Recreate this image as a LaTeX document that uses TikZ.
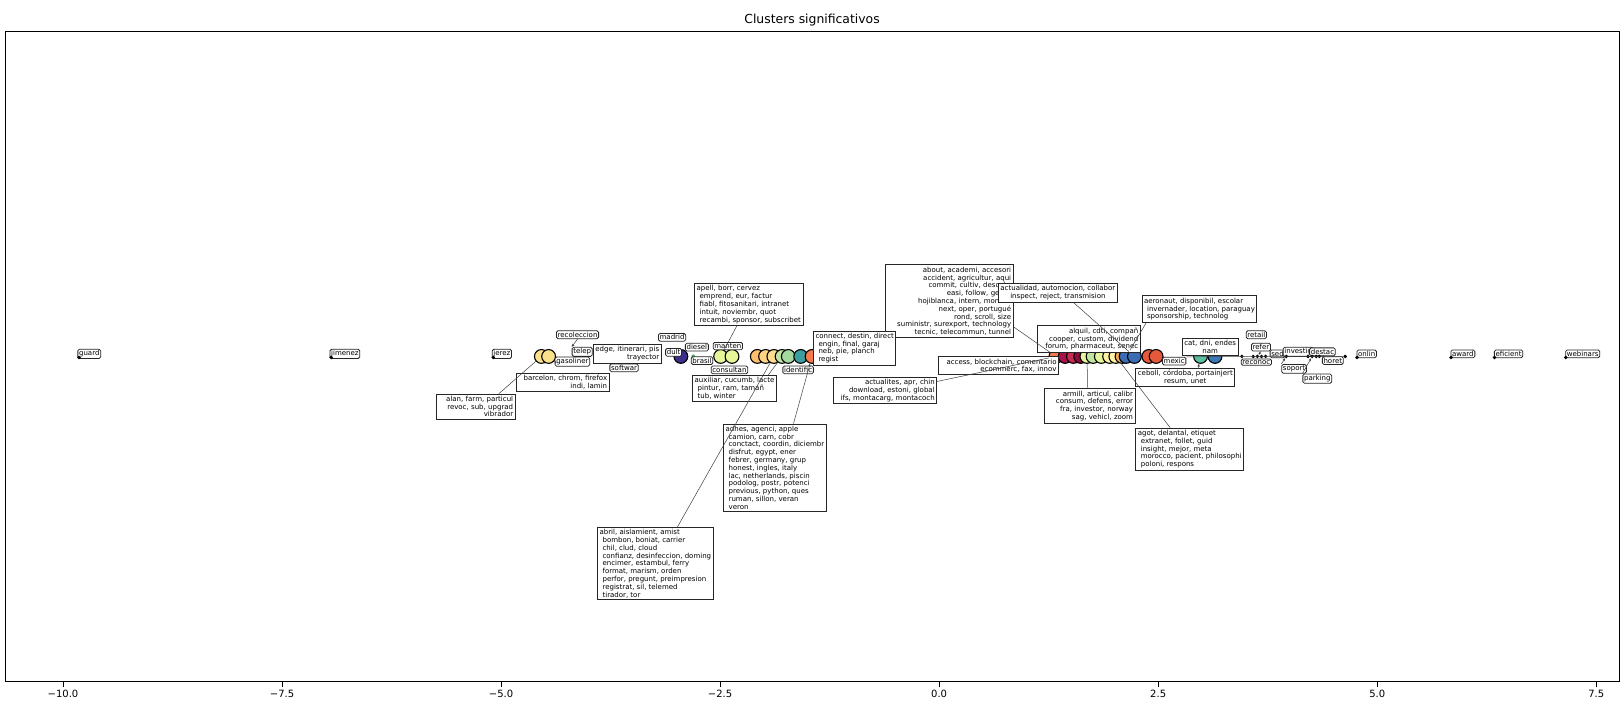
\documentclass[tikz,border=0pt]{standalone}
\usepackage{fontspec}
\setmainfont{DejaVu Sans}
\usetikzlibrary{calc,arrows.meta}
\definecolor{cYel}{HTML}{F9E08B}
\definecolor{cPur}{HTML}{3E2E8C}
\definecolor{cGrn}{HTML}{5AAE61}
\definecolor{cYG}{HTML}{E6F59A}
\definecolor{cOr1}{HTML}{FDBE6E}
\definecolor{cOr2}{HTML}{FED385}
\definecolor{cOr3}{HTML}{FDDC90}
\definecolor{cLG1}{HTML}{BFE5A0}
\definecolor{cLG2}{HTML}{A6D99E}
\definecolor{cTeal}{HTML}{3D9EA0}
\definecolor{cOrg}{HTML}{F57B4A}
\definecolor{cCrim}{HTML}{A8104A}
\definecolor{cCrim2}{HTML}{C72A52}
\definecolor{cDRed}{HTML}{8E0B3E}
\definecolor{cPY}{HTML}{FFF3A6}
\definecolor{cOrM}{HTML}{F9A65A}
\definecolor{cBlue}{HTML}{3B6DB4}
\definecolor{cRO}{HTML}{E4583C}
\definecolor{cTeal2}{HTML}{5CBFA4}
\definecolor{cBlue2}{HTML}{3A78B8}
\begin{document}
\begin{tikzpicture}[x=1.0332pt,y=-1.0332pt,
  ann/.style={draw=black!85, line width=0.8pt, fill=white, inner sep=2pt, font=\fontsize{7}{7.8}\selectfont},
  annL/.style={ann, align=left},
  annR/.style={ann, align=right},
  annC/.style={ann, align=center},
  tag/.style={draw=black!85, line width=0.8pt, rounded corners=1.5pt, fill=white, inner sep=1.2pt, font=\fontsize{7}{7.8}\selectfont},
  dot/.style={circle, fill=black, inner sep=0pt, minimum size=3.8pt},
  blob/.style={circle, draw=black, line width=1.1pt, inner sep=0pt, minimum size=13.8pt},
  conn/.style={line width=0.5pt, draw=black!75},
  arr/.style={conn, -{Stealth[length=3pt,width=2.5pt]}},
  tick/.style={font=\fontsize{10}{12}\selectfont, anchor=north}]
\useasboundingbox[fill=white] (0,0) rectangle (1568,681.4);

% title, frame, ticks
\node[font=\fontsize{12.4}{14}\selectfont] (title) at (786,19) {Clusters significativos};
\draw[line width=0.9pt] (5,30) rectangle (1567,660);
\foreach \lab [count=\i from 0] in {−10.0,−7.5,−5.0,−2.5,0.0,2.5,5.0,7.5}{
  \draw[line width=0.8pt] (61+212*\i,660) -- ++(0,4.5);
  \node[tick] (t\i) at (61+212*\i,664.5) {\lab};
}

% ---------- circles (left) ----------
\node[blob, fill=cYel] (yl1) at (524,345) {};
\node[blob, fill=cYel] (yl2) at (531,345) {};
\node[blob, fill=cPur] (pu1) at (659,345) {};
\node[circle, fill=cGrn, inner sep=0pt, minimum size=4pt] (gr1) at (671,345) {};
\node[blob, fill=cYG] (yg1) at (697.5,345) {};
\node[blob, fill=cYG] (yg2) at (708.5,345) {};
\node[blob, fill=cOr1] (o1) at (733,345) {};
\node[blob, fill=cOr2] (o2) at (741,345) {};
\node[blob, fill=cOr3] (o3) at (749,345) {};
\node[blob, fill=cLG1] (o4) at (757,345) {};
\node[blob, fill=cLG2] (o5) at (763,345) {};
\node[blob, fill=cTeal] (o6) at (775,345) {};
\node[blob, fill=cOrg] (o7) at (786,345) {};

% ---------- circles (right) ----------
\node[blob, fill=cOrg] (r1) at (1022,345) {};
\node[blob, fill=cCrim] (r2) at (1031,345) {};
\node[blob, fill=cCrim2] (r3) at (1039,345) {};
\node[blob, fill=cDRed] (r4) at (1046,345) {};
\node[blob, fill=cYG] (r5) at (1052,345) {};
\node[blob, fill=cLG1] (r6) at (1058,345) {};
\node[blob, fill=cYG] (r7) at (1066,345) {};
\node[blob, fill=cPY] (r8) at (1074,345) {};
\node[blob, fill=cPY] (r9) at (1080,345) {};
\node[blob, fill=cOrM] (r10) at (1086,345) {};
\node[blob, fill=cBlue] (r11) at (1090,345) {};
\node[blob, fill=cBlue] (r12) at (1098,345) {};
\node[blob, fill=cRO] (r13) at (1112,345) {};
\node[blob, fill=cRO] (r14) at (1119,345) {};
\node[blob, fill=cTeal2] (r15) at (1162,345) {};
\node[blob, fill=cBlue2] (r16) at (1176,345) {};

% ---------- isolated points ----------
\node[tag, anchor=west] (guard) at (75,342.5) {guard};
\node[tag, anchor=west] (jimenez) at (319,342.5) {jimenez};
\node[tag, anchor=west] (jerez) at (476,342.5) {jerez};
\node[tag, anchor=west] (onlin) at (1313,342.5) {onlin};
\node[tag, anchor=west] (award) at (1404,342.5) {award};
\node[tag, anchor=west] (eficient) at (1446,342.5) {eficient};
\node[tag, anchor=west] (webinars) at (1515,342.5) {webinars};

% ---------- small tags ----------
\node[tag] (recoleccion) at (559,324) {recoleccion};
\node[tag] (telep) at (563.5,340.5) {telep};
\node[tag] (gasoliner) at (554,350) {gasoliner};
\node[tag] (softwar) at (604,356) {softwar};
\node[tag] (madrid) at (650.5,326.5) {madrid};
\node[tag] (dult) at (652,341) {dult};
\node[tag] (diesel) at (674.5,336) {diesel};
\node[tag] (brasil) at (679.5,349) {brasil};
\node[tag] (manten) at (704.5,335) {manten};
\node[tag] (consultan) at (706,358) {consultan};
\node[tag] (identific) at (772.5,358) {identific};
\node[tag] (mexic) at (1136.5,349.5) {mexic};
\node[tag] (retail) at (1216,324) {retail};
\node[tag] (refer) at (1220.5,336) {refer};
\node[tag] (reconoc) at (1216,350.5) {reconoc};
\node[tag] (sed) at (1236.5,342.5) {sed};
\node[tag] (investig) at (1256.5,340.5) {investig};
\node[tag] (destac) at (1280,340.5) {destac};
\node[tag] (soport) at (1252.5,357) {soport};
\node[tag] (parking) at (1275,366.5) {parking};
\node[tag] (horet) at (1290,349) {horet};

% ---------- annotation boxes (left) ----------
\node[annR, text width=89pt, anchor=north east] (barcelon) at (590,361) {barcelon, chrom, firefox\\indi, lamin};
\node[annR, text width=74.5pt, anchor=north east] (alan) at (499,381) {alan, farm, particul\\revoc, sub, upgrad\\vibrador};
\node[annR, anchor=north west] (edge) at (574,333) {edge, itinerari, pis\\trayector};
\node[annL, anchor=north west] (apell) at (672,274) {apell, borr, cervez\\\hspace*{3pt}emprend, eur, factur\\\hspace*{3pt}fiabl, fitosanitari, intranet\\\hspace*{3pt}intuit, noviembr, quot\\\hspace*{3pt}recambi, sponsor, subscribet};
\node[annL, anchor=north west] (auxiliar) at (670,363) {auxiliar, cucumb, lacte\\\hspace*{3pt}pintur, ram, tamañ\\\hspace*{3pt}tub, winter};
\node[annL, anchor=north west] (adhes) at (700,410) {adhes, agenci, apple\\\hspace*{3pt}camion, carn, cobr\\\hspace*{3pt}conctact, coordin, diciembr\\\hspace*{3pt}disfrut, egypt, ener\\\hspace*{3pt}febrer, germany, grup\\\hspace*{3pt}honest, ingles, italy\\\hspace*{3pt}lac, netherlands, piscin\\\hspace*{3pt}podolog, postr, potenci\\\hspace*{3pt}previous, python, ques\\\hspace*{3pt}ruman, sillon, veran\\\hspace*{3pt}veron};
\node[annL, anchor=north west] (abril) at (578,510) {abril, aislamient, amist\\\hspace*{3pt}bombon, boniat, carrier\\\hspace*{3pt}chil, clud, cloud\\\hspace*{3pt}confianz, desinfeccion, doming\\\hspace*{3pt}encimer, estambul, ferry\\\hspace*{3pt}format, marism, orden\\\hspace*{3pt}perfor, pregunt, preimpresion\\\hspace*{3pt}registrat, sil, telemed\\\hspace*{3pt}tirador, tor};

% ---------- annotation boxes (right) ----------
\node[annR, text width=124pt, anchor=north east] (about) at (981,256) {about, academi, accesori\\accident, agricultur, aqui\\commit, cultiv, descubr\\easi, follow, gener\\hojiblanca, intern, monitor\\next, oper, portugué\\rond, scroll, size\\suministr, surexport, technology\\tecnic, telecommun, tunnel};
\node[annL, anchor=north west] (connect) at (787,320) {connect, destin, direct\\\hspace*{3pt}engin, final, garaj\\\hspace*{3pt}neb, pie, planch\\\hspace*{3pt}regist};
\node[annC, anchor=north west] (actualidad) at (966,274) {actualidad, automocion, collabor\\inspect, reject, transmision};
\node[annR, text width=99.3pt, anchor=north east] (alquil) at (1104,315) {alquil, cdti, compañ\\cooper, custom, dividend\\forum, pharmaceut, senec};
\node[annR, text width=115.9pt, anchor=north east] (access) at (1025,345) {access, blockchain, comentario\\ecommerc, fax, innov};
\node[annR, text width=99.3pt, anchor=north east] (actualites) at (907,365) {actualites, apr, chin\\download, estoni, global\\ifs, montacarg, montacoch};
\node[annR, text width=86.9pt, anchor=north east] (armill) at (1099,376) {armill, articul, calibr\\consum, defens, error\\fra, investor, norway\\sag, vehicl, zoom};
\node[annL, anchor=north west] (agot) at (1099,414) {agot, delantal, etiquet\\\hspace*{3pt}extranet, follet, guid\\\hspace*{3pt}insight, mejor, meta\\\hspace*{3pt}morocco, pacient, philosophi\\\hspace*{3pt}poloni, respons};
\node[annL, anchor=north west] (aeronaut) at (1105,286) {aeronaut, disponibil, escolar\\\hspace*{3pt}invernader, location, paraguay\\\hspace*{3pt}sponsorship, technolog};
\node[annC, anchor=north west] (cat) at (1144,327) {cat, dni, endes\\nam};
\node[annC, anchor=north west] (ceboll) at (1099,356) {ceboll, córdoba, portainjert\\resum, unet};

% ---------- black dots (right) ----------
\node[dot] (d1) at (1202,345) {};
\node[dot] (d2) at (1213,345) {};
\node[dot] (d3) at (1217,345) {};
\node[dot] (d4) at (1221,345) {};
\node[dot] (d5) at (1225,345) {};
\node[dot] (d6) at (1245,345) {};
\node[dot] (d7) at (1266,345) {};
\node[dot] (d8) at (1270,345) {};
\node[dot] (d9) at (1274,345) {};
\node[dot] (d10) at (1277,345) {};
\node[dot] (d11) at (1302,345) {};

% ---------- connectors ----------
\draw[conn] ($(alan.north west)!0.79!(alan.north east)$) -- (yl1);
\draw[conn] ($(apell.south west)!0.39!(apell.south east)$) -- (yg1);
\draw[conn] ($(abril.north west)!0.69!(abril.north east)$) -- (o3);
\draw[conn] ($(auxiliar.north west)!0.9!(auxiliar.north east)$) -- (o4);
\draw[arr] ($(adhes.north west)!0.68!(adhes.north east)$) -- (o7);
\draw[conn] ($(about.north east)!0.85!(about.south east)$) -- (r1);
\draw[conn] ($(actualidad.south west)!0.63!(actualidad.south east)$) -- (r12);
\draw[conn] ($(actualites.north east)!0.16!(actualites.south east)$) -- (r1);
\draw[conn] ($(armill.north west)!0.48!(armill.north east)$) -- (r5);
\draw[conn] ($(agot.north west)!0.32!(agot.north east)$) -- (r9);
\draw[conn] ($(aeronaut.south west)!0.04!(aeronaut.south east)$) -- (r11);
\draw[conn] (mexic.north east) -- (d11);
\draw[arr] (recoleccion.south) -- (telep.north west);
\draw[arr] (gasoliner.west) -- (yl2);
\draw[arr] ($(ceboll.north west)!0.63!(ceboll.north east)$) -- (r15);
\draw[arr] (soport.north west) -- (d6);
\draw[arr] (parking.north west) -- (d8);
\draw[arr] (horet.north west) -- (d10);
\draw[arr] (refer.south) -- (d3);

% isolated dots on top
\node[dot] (dguard) at (76.5,346) {};
\node[dot] (djimenez) at (320.5,346) {};
\node[dot] (djerez) at (477.5,346) {};
\node[dot] (donlin) at (1313.5,346) {};
\node[dot] (daward) at (1404.5,346) {};
\node[dot] (deficient) at (1446.5,346) {};
\node[dot] (dwebinars) at (1515.5,346) {};
\end{tikzpicture}
\end{document}
